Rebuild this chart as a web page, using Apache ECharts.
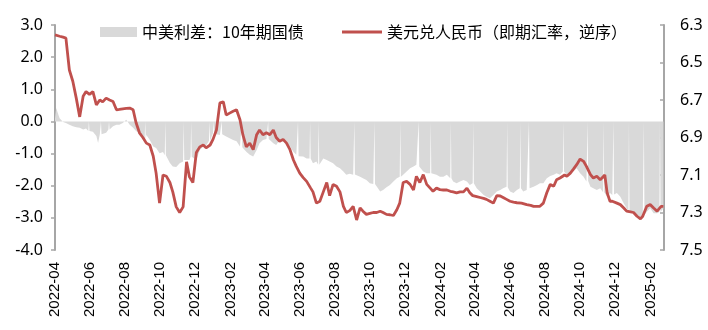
<!DOCTYPE html>
<html>
<head>
<meta charset="utf-8">
<script src="https://cdn.jsdelivr.net/npm/echarts@6/dist/echarts.min.js"></script>
<style>
  html, body { margin: 0; padding: 0; background: #fff; }
  #chart { width: 708px; height: 330px; }
</style>
</head>
<body>
<div id="chart"></div>
<script>
// Observation dates (roughly every six days)
const dates = [
  '2022-04-01','2022-04-03','2022-04-09','2022-04-15','2022-04-20','2022-04-26','2022-05-02','2022-05-08','2022-05-14','2022-05-20',
  '2022-05-25','2022-05-31','2022-06-06','2022-06-12','2022-06-18','2022-06-23','2022-06-29','2022-07-05','2022-07-11','2022-07-17',
  '2022-07-22','2022-07-28','2022-08-03','2022-08-09','2022-08-15','2022-08-20','2022-08-26','2022-09-01','2022-09-07','2022-09-13',
  '2022-09-19','2022-09-24','2022-09-30','2022-10-06','2022-10-12','2022-10-18','2022-10-23','2022-10-29','2022-11-04','2022-11-10',
  '2022-11-16','2022-11-21','2022-11-27','2022-12-03','2022-12-09','2022-12-15','2022-12-20','2022-12-27','2023-01-01','2023-01-07',
  '2023-01-13','2023-01-19','2023-01-24','2023-01-30','2023-02-05','2023-02-11','2023-02-17','2023-02-22','2023-02-28','2023-03-06',
  '2023-03-12','2023-03-18','2023-03-23','2023-03-29','2023-04-04','2023-04-10','2023-04-16','2023-04-21','2023-04-27','2023-05-03',
  '2023-05-09','2023-05-15','2023-05-21','2023-05-26','2023-06-01','2023-06-07','2023-06-13','2023-06-20','2023-06-24','2023-06-30',
  '2023-07-06','2023-07-12','2023-07-18','2023-07-23','2023-07-29','2023-08-04','2023-08-10','2023-08-16','2023-08-21','2023-08-27',
  '2023-09-02','2023-09-08','2023-09-14','2023-09-19','2023-09-25','2023-10-01','2023-10-07','2023-10-13','2023-10-19','2023-10-24',
  '2023-10-30','2023-11-05','2023-11-11','2023-11-17','2023-11-22','2023-11-28','2023-12-04','2023-12-10','2023-12-16','2023-12-21',
  '2023-12-27','2024-01-02','2024-01-08','2024-01-14','2024-01-19','2024-01-25','2024-01-31','2024-02-06','2024-02-12','2024-02-18',
  '2024-02-23','2024-02-29','2024-03-06','2024-03-12','2024-03-18','2024-03-23','2024-03-28','2024-04-04','2024-04-10','2024-04-16',
  '2024-04-21','2024-04-27','2024-05-03','2024-05-09','2024-05-15','2024-05-20','2024-05-26','2024-06-01','2024-06-07','2024-06-13',
  '2024-06-21','2024-06-24','2024-06-30','2024-07-07','2024-07-12','2024-07-18','2024-07-23','2024-07-29','2024-08-04','2024-08-10',
  '2024-08-16','2024-08-21','2024-08-27','2024-09-04','2024-09-08','2024-09-14','2024-09-19','2024-09-25','2024-10-01','2024-10-07',
  '2024-10-12','2024-10-19','2024-10-24','2024-10-30','2024-11-05','2024-11-13','2024-11-17','2024-11-22','2024-11-26','2024-12-04',
  '2024-12-10','2024-12-16','2024-12-21','2024-12-28','2025-01-02','2025-01-08','2025-01-14','2025-01-18','2025-01-25','2025-01-31',
  '2025-02-06','2025-02-12','2025-02-19','2025-02-23'
];

// China-US 10Y government bond yield spread (percentage points)
const spread = [
  0.1, 0.42, 0.1, -0.02, -0.05, -0.1, -0.15, -0.18, -0.2, -0.25,
  -0.22, -0.3, -0.32, -0.45, -0.4, -0.35, -0.35, -0.25, -0.15, -0.1,
  -0.1, -0.05, 0.05, -0.1, -0.2, -0.3, -0.36, -0.42, -0.42, -0.58,
  -0.78, -0.83, -0.99, -0.95, -1.1, -1.29, -1.4, -1.42, -1.3, -1.25,
  -1.2, -1.2, -1.1, -1.2, -0.89, -0.78, -0.75, -0.6, -0.36, -0.4,
  -0.42, -0.36, -0.47, -0.52, -0.58, -0.62, -0.78, -0.83, -0.94, -1.04,
  -1.09, -0.89, -0.68, -0.58, -0.55, -0.55, -0.68, -0.73, -0.58, -0.63,
  -0.63, -0.78, -0.94, -1.04, -1.09, -1.09, -1.15, -1.15, -1.3, -1.25,
  -1.4, -1.15, -1.2, -1.25, -1.3, -1.4, -1.46, -1.56, -1.66, -1.63,
  -1.66, -1.66, -1.72, -1.77, -1.82, -1.92, -1.95, -1.98, -2.18, -2.13,
  -2.05, -1.98, -1.87, -1.77, -1.72, -1.66, -1.56, -1.46, -1.4, -1.35,
  -1.46, -1.56, -1.61, -1.61, -1.66, -1.66, -1.72, -1.72, -1.66, -1.77,
  -1.87, -1.92, -1.87, -1.82, -1.87, -1.98, -1.92, -2.08, -2.18, -2.29,
  -2.34, -2.39, -2.29, -2.18, -2.13, -2.08, -2.03, -2.18, -2.23, -2.13,
  -2.08, -2.18, -2.13, -2.08, -2.03, -1.98, -1.92, -1.92, -1.77, -1.7,
  -1.66, -1.61, -1.66, -1.56, -1.66, -1.61, -1.56, -1.46, -1.61, -1.72,
  -1.87, -2.03, -2.08, -2.13, -2.08, -2.18, -2.34, -2.23, -2.29, -2.23,
  -2.34, -2.55, -2.7, -2.81, -2.81, -2.96, -3.01, -2.96, -2.81, -2.7,
  -2.86, -2.86, -2.81, -2.7
];

// USD/CNY spot rate
const usdcny = [
  6.353, 6.355, 6.36, 6.365, 6.37, 6.54, 6.60, 6.69, 6.79, 6.68,
  6.655, 6.67, 6.655, 6.726, 6.70, 6.71, 6.69, 6.70, 6.708, 6.752,
  6.75, 6.747, 6.745, 6.743, 6.752, 6.82, 6.875, 6.90, 6.93, 6.94,
  7.00, 7.09, 7.25, 7.10, 7.107, 7.14, 7.19, 7.27, 7.30, 7.27,
  7.03, 7.11, 7.14, 6.98, 6.95, 6.94, 6.955, 6.94, 6.91, 6.86,
  6.715, 6.71, 6.78, 6.77, 6.76, 6.752, 6.805, 6.885, 6.95, 6.93,
  6.965, 6.885, 6.86, 6.885, 6.875, 6.885, 6.86, 6.90, 6.92, 6.91,
  6.93, 6.965, 7.02, 7.054, 7.09, 7.114, 7.134, 7.17, 7.19, 7.25,
  7.24, 7.19, 7.14, 7.21, 7.15, 7.16, 7.19, 7.267, 7.30, 7.29,
  7.267, 7.34, 7.275, 7.293, 7.31, 7.305, 7.30, 7.30, 7.293, 7.30,
  7.31, 7.312, 7.316, 7.285, 7.25, 7.14, 7.134, 7.15, 7.18, 7.107,
  7.14, 7.098, 7.15, 7.17, 7.187, 7.17, 7.178, 7.18, 7.18, 7.187,
  7.19, 7.195, 7.19, 7.19, 7.17, 7.195, 7.21, 7.215, 7.22, 7.225,
  7.23, 7.24, 7.25, 7.21, 7.212, 7.22, 7.23, 7.24, 7.245, 7.248,
  7.25, 7.255, 7.258, 7.262, 7.267, 7.267, 7.267, 7.25, 7.195, 7.15,
  7.16, 7.125, 7.116, 7.10, 7.107, 7.09, 7.07, 7.045, 7.015, 7.027,
  7.054, 7.098, 7.116, 7.107, 7.125, 7.10, 7.195, 7.24, 7.24, 7.25,
  7.258, 7.276, 7.293, 7.297, 7.30, 7.32, 7.334, 7.32, 7.267, 7.258,
  7.276, 7.293, 7.267, 7.267
];

// Single-day spread readings outside the regular observation dates
const spreadExtra = [['2022-06-15', -0.67]];

// US bond market closures: the spread reads zero on the day itself;
// the second value is the spread level on the trading days either side
const usClosedDays = [
  ['2022-05-30', -0.3], ['2022-06-20', -0.4], ['2022-07-04', -0.25], ['2022-09-05', -0.55],
  ['2022-10-10', -1.05], ['2022-11-11', -1.2], ['2022-11-24', -1.1], ['2022-12-26', -0.6],
  ['2023-01-02', -0.36], ['2023-01-16', -0.4], ['2023-02-20', -0.8], ['2023-04-07', -0.55],
  ['2023-05-29', -1.08], ['2023-06-19', -1.15], ['2023-07-04', -1.35], ['2023-09-04', -1.65],
  ['2023-10-09', -1.95], ['2023-11-23', -1.72], ['2023-12-25', -1.4], ['2024-01-15', -1.61],
  ['2024-02-19', -1.77], ['2024-03-29', -1.92], ['2024-05-27', -2.05], ['2024-06-19', -2.08],
  ['2024-07-04', -2.08], ['2024-09-02', -1.56], ['2024-10-14', -1.85], ['2024-11-11', -2.2],
  ['2024-11-28', -2.27], ['2024-12-25', -2.78], ['2025-01-20', -2.9], ['2025-02-17', -2.82]
];

// Bottom axis labels, every two months
const monthTicks = [
  '2022-04','2022-06','2022-08','2022-10','2022-12','2023-02','2023-04','2023-06','2023-08',
  '2023-10','2023-12','2024-02','2024-04','2024-06','2024-08','2024-10','2024-12','2025-02'
];
const rateTicks = [6.3, 6.5, 6.7, 6.9, 7.1, 7.3, 7.5];

const seriesNames = ['中美利差：10年期国债', '美元兑人民币（即期汇率，逆序）'];
const dateRange = ['2022-04-01', '2025-02-24'];

const DAY = 86400000;

// local-time timestamp of a 'YYYY-MM[-DD]' string
function dayStamp(s) {
  const p = s.split('-').map(Number);
  return new Date(p[0], p[1] - 1, p[2] || 1).getTime();
}

const closurePoints = [];
usClosedDays.forEach(([d, level]) => {
  const t = dayStamp(d);
  closurePoints.push([t - DAY, level], [t, 0], [t + DAY, level]);
});

const spreadData = dates.map((d, i) => [dayStamp(d), spread[i]])
  .concat(spreadExtra.map(e => [dayStamp(e[0]), e[1]]))
  .concat(closurePoints)
  .sort((a, b) => a[0] - b[0]);

const rateData = dates.map((d, i) => [dayStamp(d), usdcny[i]]);

const numFont = { fontFamily: 'Noto Sans', fontSize: 16, color: '#000' };
const legendFont = { fontFamily: 'Noto Sans CJK SC', fontSize: 16, color: '#000' };
const axisGray = '#a6a6a6';
const red = '#c0504d';
const gray = '#d9d9d9';

const chart = echarts.init(document.getElementById('chart'), null, { renderer: 'canvas' });

chart.setOption({
  animation: false,
  backgroundColor: '#fff',
  grid: { left: 55, right: 44, top: 25, bottom: 80 },
  legend: [
    {
      left: 95, top: 19, itemWidth: 37, itemHeight: 10, icon: 'rect',
      data: [{ name: seriesNames[0], itemStyle: { color: gray } }],
      textStyle: legendFont
    },
    {
      left: 337, top: 19, itemWidth: 40, itemHeight: 3, icon: 'rect',
      data: [{ name: seriesNames[1], itemStyle: { color: red } }],
      textStyle: legendFont
    }
  ],
  xAxis: {
    type: 'value',
    min: dayStamp(dateRange[0]),
    max: dayStamp(dateRange[1]),
    axisLine: { show: false },
    axisTick: { show: false },
    splitLine: { show: false },
    axisLabel: {
      customValues: monthTicks.map(dayStamp),
      rotate: 90,
      margin: 12,
      fontFamily: 'Liberation Sans',
      fontSize: 15,
      color: '#000',
      formatter: function (v) {
        const d = new Date(v);
        return d.getFullYear() + '-' + String(d.getMonth() + 1).padStart(2, '0');
      }
    }
  },
  yAxis: [
    {
      type: 'value',
      min: -4, max: 3, interval: 1,
      axisLine: { show: true, lineStyle: { color: axisGray, width: 2 } },
      axisTick: { show: true, length: 4, lineStyle: { color: axisGray, width: 1.5 } },
      splitLine: { show: false },
      axisLabel: Object.assign({ margin: 12, formatter: v => v.toFixed(1) }, numFont)
    },
    {
      type: 'value',
      min: 6.3, max: 7.5, inverse: true,
      position: 'right',
      axisLine: { show: true, lineStyle: { color: axisGray, width: 2 } },
      axisTick: { show: true, inside: true, length: 4, customValues: rateTicks, lineStyle: { color: axisGray, width: 1.5 } },
      splitLine: { show: false },
      axisLabel: Object.assign({ margin: 16, customValues: rateTicks, formatter: v => v.toFixed(1) }, numFont)
    }
  ],
  series: [
    {
      name: seriesNames[0],
      type: 'line',
      yAxisIndex: 0,
      data: spreadData,
      symbol: 'none',
      lineStyle: { width: 0 },
      itemStyle: { color: gray },
      areaStyle: { color: gray, opacity: 1, origin: 0 },
      z: 1
    },
    {
      name: seriesNames[1],
      type: 'line',
      yAxisIndex: 1,
      data: rateData,
      symbol: 'none',
      lineStyle: { color: red, width: 2.8 },
      itemStyle: { color: red },
      z: 3
    }
  ]
});
</script>
</body>
</html>
